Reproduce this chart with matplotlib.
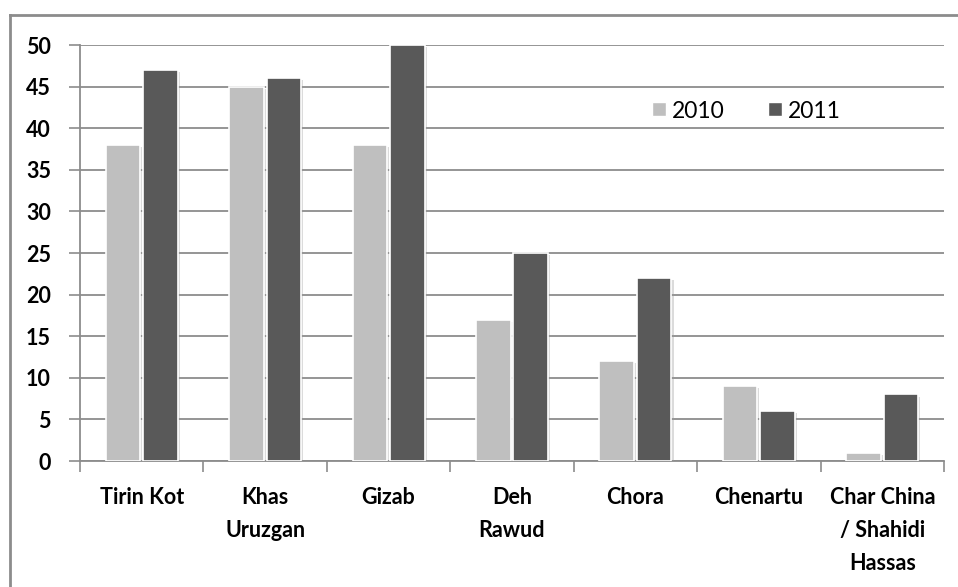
import numpy as np
import matplotlib
matplotlib.use('Agg')
import matplotlib.pyplot as plt
import matplotlib.patheffects as pe
from matplotlib.lines import Line2D

districts = ['Tirin Kot', 'Khas\nUruzgan', 'Gizab', 'Deh\nRawud', 'Chora', 'Chenartu',
             'Char China\n/ Shahidi\nHassas']
vals_2010 = [38, 45, 38, 17, 12, 9, 1]
vals_2011 = [47, 46, 50, 25, 22, 6, 8]
yticks = [0, 5, 10, 15, 20, 25, 30, 35, 40, 45, 50]

plt.rcParams['font.family'] = ['Lato', 'DejaVu Sans']

fig = plt.figure(figsize=(9.58, 5.87), dpi=100)
ax = fig.add_axes([80/958, 1 - 461/587, (944 - 80)/958, (461 - 45)/587])

x = np.arange(len(districts))
w = 0.28
shadow = [pe.SimplePatchShadow(offset=(1.5, -1.5), shadow_rgbFace='#999999', alpha=0.35), pe.Normal()]
b1 = ax.bar(x - w/2 - 0.012, vals_2010, w, color='#bfbfbf', edgecolor='white', linewidth=1.2, zorder=3, label='2010')
b2 = ax.bar(x + w/2 + 0.012, vals_2011, w, color='#595959', edgecolor='white', linewidth=1.2, zorder=3, label='2011')
for b in list(b1) + list(b2):
    b.set_path_effects(shadow)

ax.set_xlim(-0.5, len(districts) - 0.5)
ax.set_ylim(0, 50)
ax.set_yticks(yticks)
ax.yaxis.grid(True, color='#8c8c8c', linewidth=1.3, zorder=0)
ax.set_axisbelow(True)

ax.set_xticks(np.arange(len(districts) + 1) - 0.5, minor=False)
ax.set_xticklabels([])
ax.set_xticks(x, minor=True)
ax.set_xticklabels(districts, minor=True, fontsize=15.5, fontweight='bold', linespacing=1.7, va='top')
ax.tick_params(axis='x', which='minor', length=0, pad=19)
ax.tick_params(axis='x', which='major', length=8, color='#8c8c8c', width=1.2)
ax.tick_params(axis='y', length=8, color='#8c8c8c', width=1.2, labelsize=15.5, pad=13)
for lab in ax.get_yticklabels():
    lab.set_fontweight('bold')

for s in ['top', 'right']:
    ax.spines[s].set_visible(False)
for s in ['left', 'bottom']:
    ax.spines[s].set_color('#8c8c8c')
    ax.spines[s].set_linewidth(1.3)

handles = [Line2D([], [], marker='s', ls='', markersize=10, color='#bfbfbf', markeredgecolor='white'),
           Line2D([], [], marker='s', ls='', markersize=10, color='#595959', markeredgecolor='white')]
fig.legend(handles, ['2010', '2011'], loc='center left', bbox_to_anchor=(648/958, 1 - 111/587), ncol=2,
           frameon=False, fontsize=16.5, handletextpad=0.05, columnspacing=1.7, handlelength=1.0,
           borderaxespad=0, borderpad=0)

# outer chart frame (left and top edges)
fig.add_artist(Line2D([10/958, 10/958], [0, 1 - 15/587], transform=fig.transFigure, color='#8c8c8c', lw=2))
fig.add_artist(Line2D([10/958, 1], [1 - 15/587, 1 - 15/587], transform=fig.transFigure, color='#8c8c8c', lw=2))

fig.savefig('out.png', dpi=100)
